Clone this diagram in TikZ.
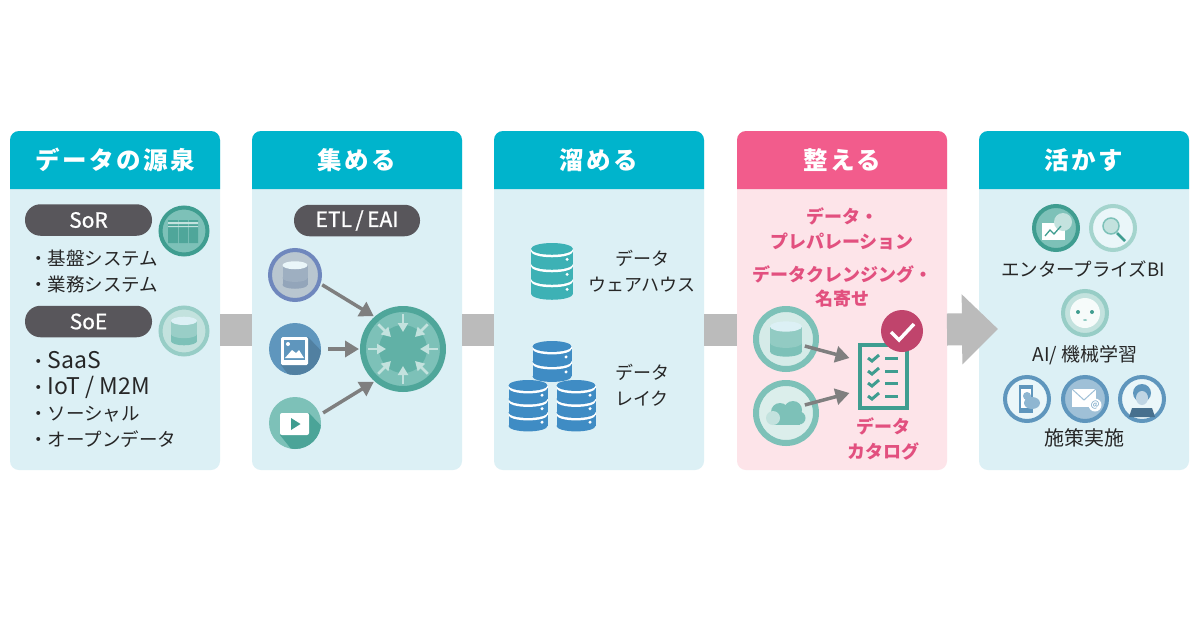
\documentclass[tikz,border=0pt]{standalone}
\usepackage{fontspec}
\setmainfont{Noto Sans CJK JP}
\usetikzlibrary{arrows.meta}

\definecolor{headblue}{HTML}{00B4CC}
\definecolor{bodyblue}{HTML}{DCF0F5}
\definecolor{headpink}{HTML}{F25C8C}
\definecolor{bodypink}{HTML}{FDE4E9}
\definecolor{textpink}{HTML}{E2507F}
\definecolor{pillgray}{HTML}{58565B}
\definecolor{bargray}{HTML}{BBBBBB}
\definecolor{arrowgray}{HTML}{7F7F7F}
\definecolor{darkgreen}{HTML}{3F9D90}
\definecolor{midgreen}{HTML}{7DC1B8}
\definecolor{palegreen}{HTML}{C3E2DE}
\definecolor{steelblue}{HTML}{5F96BD}
\definecolor{slatering}{HTML}{6F87BD}
\definecolor{slatefill}{HTML}{B9C6D0}
\definecolor{slatecan}{HTML}{93A5BA}
\definecolor{wareteal}{HTML}{3DB1B5}
\definecolor{lakeblue}{HTML}{3F8CC4}

\tikzset{
  panelbody/.style={minimum width=210pt,minimum height=339pt,rounded corners=9pt,inner sep=0,outer sep=0},
  headtext/.style={text=white,font=\fontsize{24.5}{28}\selectfont\bfseries\addfontfeature{LetterSpace=10}},
  pill/.style={fill=pillgray,text=white,rounded corners=15.5pt,minimum width=127pt,minimum height=31.5pt,inner sep=0,
    font=\fontsize{21}{24}\selectfont\addfontfeature{FakeBold=0.8}},
  bodytext/.style={text=black!85,align=center,inner sep=0,font=\fontsize{18}{26}\selectfont},
  listtext/.style={bodytext,align=left,anchor=west,font=\fontsize{18.5}{26}\selectfont},
  pinktext/.style={text=textpink,align=center,inner sep=0,font=\fontsize{18}{24.5}\selectfont\bfseries},
  flowbar/.style={bargray,line width=32pt},
  flowarrow/.style={arrowgray,line width=3.5pt,-{Triangle[length=14pt,width=16pt]},shorten <=4pt},
  roundicon/.style={circle,inner sep=0,outer sep=0,line width=#1},
  roundicon/.default=4pt
}
\newcommand{\latin}[1]{{\fontsize{23}{26}\selectfont #1}}

% name, left edge, head colour, body colour, title
\newcommand{\panel}[5]{%
  \node[panelbody,fill=#4] (#1) at (#2+105,300.5) {};
  \fill[#3] (#2,189) [rounded corners=9pt] -- (#2,131) -- (#2+210,131) [sharp corners] -- (#2+210,189) -- cycle;
  \node[headtext] (#1title) at (#2+105,160) {#5};
}
% centre x, top y, half width, layers, layer height, colour
\newcommand{\dbstack}[6]{%
  \pgfmathsetmacro{\ry}{#3*0.28}
  \foreach \n in {#4,...,0}{
    \pgfmathsetmacro{\yb}{#2+\ry+\n*#5}
    \ifnum\n<#4
      \fill[white] (#1-#3,\yb) rectangle (#1+#3,\yb+2.5);
      \fill[white] (#1,\yb+2.5) ellipse (#3 and \ry);
    \fi
    \fill[#6] (#1,\yb) ellipse (#3 and \ry);
    \ifnum\n>0
      \fill[#6] (#1-#3,\yb) rectangle (#1+#3,\yb-#5);
      \fill[white] (#1+0.72*#3,\yb-#5/2+3) circle (1.7);
    \fi
  }
}
% centre x, centre y, half width, body, band, top
\newcommand{\smallcan}[6]{%
  \pgfmathsetmacro{\hh}{#3*0.78}
  \pgfmathsetmacro{\rr}{#3*0.32}
  \fill[#4] (#1,#2+\hh) ellipse (#3 and \rr);
  \fill[#4] (#1-#3,#2-\hh) rectangle (#1+#3,#2+\hh);
  \fill[#5] (#1,#2+0.3*\hh) ellipse (#3 and \rr);
  \fill[#5] (#1-#3,#2-\hh) rectangle (#1+#3,#2+0.3*\hh);
  \fill[#6] (#1,#2-\hh) ellipse (#3 and \rr);
}

\begin{document}
\begin{tikzpicture}[x=1pt,y=-1pt]
  \useasboundingbox (0,0) rectangle (1200,630);
  \fill[white] (0,0) rectangle (1200,630);

  \panel{source}{10}{headblue}{bodyblue}{データの源泉}
  \panel{collect}{252}{headblue}{bodyblue}{集める}
  \panel{store}{494}{headblue}{bodyblue}{溜める}
  \panel{prepare}{737}{headpink}{bodypink}{整える}
  \panel{use}{979}{headblue}{bodyblue}{活かす}

  % gray flow between the panels
  \draw[flowbar] ([yshift=-29pt]source.east) -- ([yshift=-29pt]collect.west);
  \draw[flowbar] ([yshift=-29pt]collect.east) -- ([yshift=-29pt]store.west);
  \draw[flowbar] ([yshift=-29pt]store.east) -- ([yshift=-29pt]prepare.west);
  \coordinate (flowtip) at (998,329);
  \draw[flowbar,-{Triangle[length=36pt,width=68pt]}] ([yshift=-29pt]prepare.east) -- (flowtip);

  % source panel
  \node[pill] (sor) at (88.5,220) {SoR};
  \node[pill] (soe) at (88.5,321.5) {SoE};
  \node[listtext] (sorlist) at (29,271) {・基盤システム\\・業務システム};
  \node[listtext] (soelist) at (29,399) {・\latin{SaaS}\\・\latin{IoT / M2M}\\・ソーシャル\\・オープンデータ};
  \node[roundicon,draw=darkgreen,fill=midgreen,minimum size=47pt] (soricon) at (184,231) {};
  \fill[darkgreen!75!midgreen] (168,220) rectangle (178,243) (179,220) rectangle (188,243) (189,220) rectangle (198,243);
  \fill[palegreen] (168,222) rectangle (198,224) (168,226) rectangle (198,227);
  \node[roundicon,draw=midgreen!80,fill=palegreen,minimum size=47pt] (soeicon) at (184,331) {};
  \smallcan{184}{331}{13}{midgreen}{midgreen!60!palegreen}{bodyblue}

  % collect panel
  \node[pill,minimum width=126pt] (etl) at (357,220.5) {ETL\,/\,EAI};
  \node[roundicon=4pt,draw=slatering,fill=slatefill,minimum size=50pt] (dbsrc) at (295,275) {};
  \smallcan{295}{275}{12.5}{slatecan}{slatecan!70!slatefill}{bodyblue!60!white}
  \node[roundicon=0pt,fill=steelblue,minimum size=52pt] (imgsrc) at (295,349) {};
  \begin{scope}
    \clip (295,349) circle (26);
    \fill[steelblue!85!black] (281,365) -- (308,337) -- (330,360) -- (300,390) -- cycle;
  \end{scope}
  \fill[white,rounded corners=1.5pt] (281,337) rectangle (308,365);
  \fill[steelblue] (284,340) rectangle (305,360);
  \fill[white] (285,358) -- (292,350) -- (296,353) -- (299,350) -- (304,358) -- cycle;
  \fill[white] (288,344) circle (2);
  \node[roundicon=0pt,fill=midgreen,minimum size=52pt] (videosrc) at (295,423) {};
  \begin{scope}
    \clip (295,423) circle (26);
    \fill[darkgreen!80!midgreen] (280,435) -- (309,413) -- (330,435) -- (300,460) -- cycle;
  \end{scope}
  \fill[white,rounded corners=2pt] (280,413) rectangle (309,435);
  \fill[darkgreen] (291,418) -- (300.5,424) -- (291,430) -- cycle;
  \node[roundicon=6pt,draw=darkgreen!75!midgreen,fill=midgreen,minimum size=80pt] (hub) at (403,349) {};
  \fill[darkgreen!45!midgreen] (403,349) circle (24);
  \foreach \a in {0,45,...,315}{
    \draw[palegreen,line width=2.5pt,-{Triangle[length=9pt,width=10pt]}]
      ({403+35*cos(\a)},{349+35*sin(\a)}) -- ({403+17*cos(\a)},{349+17*sin(\a)});
  }
  \draw[flowarrow,shorten >=4pt] (dbsrc.-18) -- (hub.130);
  \path (imgsrc) ++(29,0) coordinate (imgout);
  \draw[flowarrow,shorten >=4pt] (imgout) -- (hub.west);
  \draw[flowarrow,shorten >=4pt] (videosrc.18) -- (hub.230);

  % store panel
  \dbstack{552}{243}{21}{3}{15}{wareteal}
  \node[bodytext] (dwh) at (642,271) {データ\\ウェアハウス};
  \dbstack{528}{380}{19.5}{3}{13.5}{lakeblue}
  \dbstack{576}{380}{19.5}{3}{13.5}{lakeblue}
  \dbstack{552}{341}{19.5}{2}{15}{lakeblue}
  \node[bodytext] (lake) at (642,385) {データ\\レイク};

  % prepare panel
  \node[pinktext] (prep) at (842,229) {データ・\\プレパレーション};
  \node[pinktext] (cleansing) at (842,286.5) {データクレンジング・\\名寄せ};
  \node[roundicon=6pt,draw=midgreen,fill=palegreen!70!white,minimum size=60pt] (dbin) at (786,339) {};
  \smallcan{786}{339}{16}{midgreen}{midgreen!70!palegreen}{bodyblue}
  \node[roundicon=6pt,draw=midgreen,fill=palegreen!60!white,minimum size=60pt] (cloudin) at (786,413) {};
  \fill[midgreen] (780,412) circle (9) (793,410) circle (9) (799,418) circle (6.5);
  \fill[midgreen] (774,414) rectangle (800,424.5);
  \fill[palegreen] (773,418) circle (7);
  \node[draw=darkgreen,fill=bodypink,line width=4pt,inner sep=0,minimum width=47pt,minimum height=63pt] (catalog) at (883,376) {};
  \foreach \y in {358,371,383,396}{
    \draw[darkgreen,line width=3pt] (868,\y) -- (872,\y+3) -- (879,\y-3);
    \draw[darkgreen,line width=3pt] (885,\y) -- (898,\y);
  }
  \node[circle,fill=textpink!85!black,inner sep=0,minimum size=42pt] (checkmark) at (902,331) {};
  \draw[white,line width=3.5pt] (891,332) -- (899,340) -- (914,324);
  \draw[flowarrow] ([shift={(15,6)}]dbin.center) -- ([xshift=-8pt,yshift=18pt]catalog.west);
  \draw[flowarrow] ([shift={(15,-7)}]cloudin.center) -- ([xshift=-8pt,yshift=-17pt]catalog.west);
  \node[pinktext] (catalogtext) at (883,439) {データ\\カタログ};

  % use panel
  \node[roundicon,draw=darkgreen,fill=midgreen,minimum size=44pt] (chart) at (1056,228) {};
  \fill[white] (1042,223) rectangle (1065,240);
  \fill[palegreen] (1063,222) circle (9);
  \draw[darkgreen,line width=1.3pt] (1045,236) -- (1050,230) -- (1054,234) -- (1061,226);
  \node[roundicon,draw=midgreen!70,fill=bodyblue!60!white,minimum size=44pt] (search) at (1113,228) {};
  \draw[darkgreen,line width=2.5pt] (1117,233) -- (1125,241);
  \draw[midgreen,fill=palegreen,line width=1.5pt] (1111,226) circle (8);
  \node[bodytext,font=\fontsize{18.5}{26}\selectfont] (bi) at (1083,269) {エンタープライズBI};
  \node[roundicon,draw=midgreen!80,fill=palegreen,minimum size=44pt] (robot) at (1085,313) {};
  \fill[white!85!palegreen] (1085,313) ellipse (15 and 15);
  \fill[darkgreen] (1078,312) circle (2) (1092,312) circle (2);
  \fill[midgreen] (1085,320) ellipse (2 and 0.8);
  \node[bodytext,font=\fontsize{19}{26}\selectfont] (ai) at (1085,355) {AI/ 機械学習};
  \node[roundicon,draw=steelblue,fill=bodyblue!60!white,minimum size=44pt] (phone) at (1027,399) {};
  \fill[steelblue] (1019,385) rectangle (1033,413);
  \fill[white] (1021,389) rectangle (1031,408);
  \fill[steelblue!70] (1027,396) circle (4) (1032,403) ellipse (8 and 6);
  \node[roundicon,draw=steelblue,fill=steelblue!60,minimum size=44pt] (mail) at (1085,399) {};
  \fill[white] (1072,389) rectangle (1096,407);
  \draw[steelblue!60,line width=1pt] (1072,389) -- (1084,400) -- (1096,389);
  \node[circle,fill=white,inner sep=0,minimum size=13pt,text=steelblue,font=\fontsize{9}{9}\selectfont] (mailat) at (1095,405) {@};
  \node[roundicon,draw=steelblue,fill=bodyblue!60!white,minimum size=44pt] (operator) at (1142,399) {};
  \fill[steelblue] (1142,393) circle (9);
  \fill[steelblue!75!black] (1129,417) -- (1132,408) -- (1152,408) -- (1155,417) -- cycle;
  \fill[steelblue!40] (1142,398) ellipse (6 and 7);
  \node[bodytext,font=\fontsize{20}{26}\selectfont] (action) at (1084,438) {施策実施};
\end{tikzpicture}
\end{document}
